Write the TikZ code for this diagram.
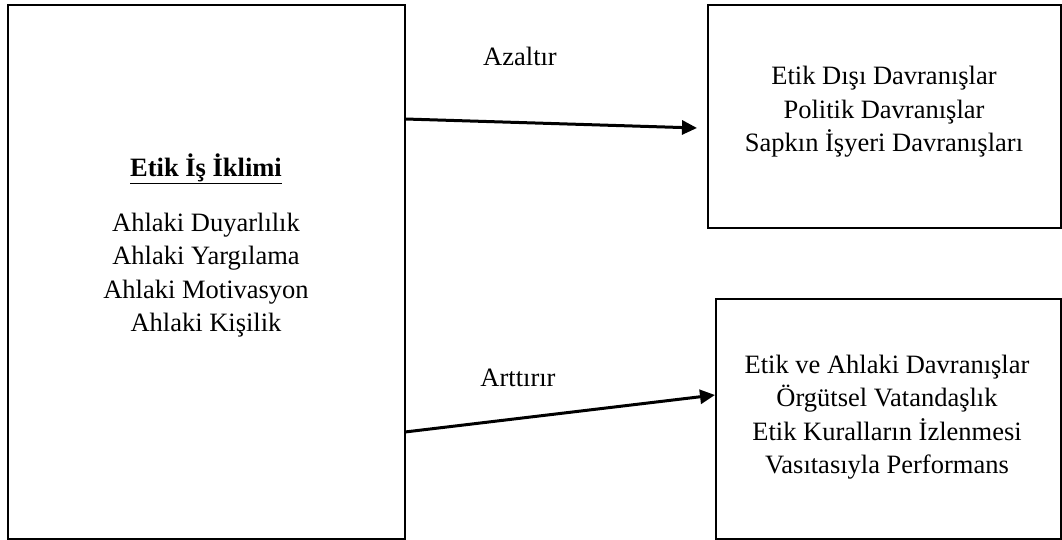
\documentclass[tikz,border=0pt]{standalone}
\usepackage{fontspec}
\setmainfont{Liberation Serif}
\usetikzlibrary{arrows.meta}
\begin{document}
\begin{tikzpicture}[x=1pt,y=1pt,
  box/.style={draw=black,line width=1.3pt,inner sep=0pt,outer sep=0pt},
  txt/.style={align=center,font=\fontsize{26.5}{33.5}\selectfont,inner sep=0pt},
  lbl/.style={font=\fontsize{26.5}{33.5}\selectfont,inner sep=0pt},
  link/.style={line width=3pt,-{Triangle[length=15pt,width=14pt]}}]
\useasboundingbox (0,0) rectangle (1062,540);
% the three boxes
\node[box,minimum width=397pt,minimum height=534pt,anchor=south west] (lbox) at (8,1) {};
\node[box,minimum width=353pt,minimum height=223pt,anchor=north west] (tbox) at (708,535) {};
\node[box,minimum width=345pt,minimum height=240pt,anchor=north west] (bbox) at (716,241) {};
% box texts
\node[txt] (ltitle) at (206,371) {\underline{\textbf{Etik İş İklimi}}};
\node[txt] (ltext) at (206,265) {Ahlaki Duyarlılık\\Ahlaki Yargılama\\Ahlaki Motivasyon\\Ahlaki Kişilik};
\node[txt] (ttext) at (884,428) {Etik Dışı Davranışlar\\Politik Davranışlar\\Sapkın İşyeri Davranışları};
\node[txt] (btext) at (887,123) {Etik ve Ahlaki Davranışlar\\Örgütsel Vatandaşlık\\Etik Kuralların İzlenmesi\\Vasıtasıyla Performans};
% connectors
\coordinate (a1) at ([yshift=-114pt]lbox.north east);
\coordinate (a2) at ([xshift=-11pt,yshift=-11.5pt]tbox.west);
\coordinate (b1) at ([yshift=107pt]lbox.south east);
\coordinate (b2) at ([xshift=-1pt,yshift=24pt]bbox.west);
\draw[link] (a1) -- (a2);
\draw[link] (b1) -- (b2);
\node[lbl] (azl) at (520,484) {Azaltır};
\node[lbl] (art) at (518,162) {Arttırır};
\end{tikzpicture}
\end{document}
